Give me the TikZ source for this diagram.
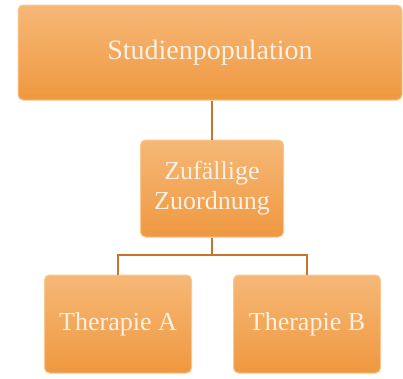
\documentclass[tikz,border=0pt]{standalone}
\usepackage{fontspec}
\setmainfont{Liberation Serif}
\definecolor{boxtop}{HTML}{F6B877}
\definecolor{boxbot}{HTML}{EF9840}
\definecolor{boxline}{HTML}{F8C890}
\definecolor{conn}{HTML}{C8742E}
\definecolor{txt}{HTML}{FDF1E3}
\tikzset{
  obox/.style={draw=boxline, line width=1pt, rounded corners=5pt, top color=boxtop, bottom color=boxbot,
    text=txt, align=center, inner sep=0pt, font=\fontsize{26}{30}\selectfont},
  conline/.style={draw=conn, line width=2pt}
}
\begin{document}
\begin{tikzpicture}[x=1pt,y=-1pt]
\useasboundingbox (0,0) rectangle (403,378);
\node[obox, minimum width=384pt, minimum height=95pt, font=\fontsize{28}{32}\selectfont] (pop) at (210,52.5) {Studienpopulation};
\node[obox, minimum width=143pt, minimum height=97pt] (zuf) at (212,188.5) {Zufällige\\Zuordnung};
\node[obox, minimum width=147pt, minimum height=98pt] (ta) at (118,324) {Therapie A};
\node[obox, minimum width=147pt, minimum height=98pt] (tb) at (307,324) {Therapie B};
\coordinate (bl) at (118,255);
\coordinate (br) at (307,255);
\coordinate (bm) at (zuf.south |- bl);
\draw[conline] (pop.south -| zuf.north) -- (zuf.north);
\draw[conline] (zuf.south) -- (bm);
\draw[conline] (ta.north) -- (bl) -- (br) -- (tb.north);
\end{tikzpicture}
\end{document}
